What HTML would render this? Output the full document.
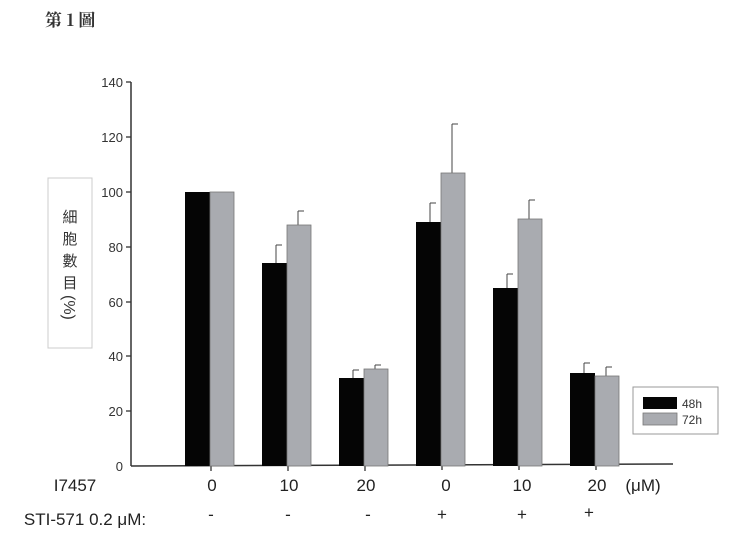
<!DOCTYPE html><html><head><meta charset="utf-8"><style>body{margin:0;background:#fff}svg{display:block}</style></head><body>
<svg width="729" height="540" xmlns="http://www.w3.org/2000/svg" font-family="Liberation Sans, sans-serif">
<text x="45" y="26" font-size="17" font-weight="bold" font-family="Noto Serif CJK SC, serif" fill="#333">第 1 圖</text>
<rect x="48" y="178" width="44" height="170" fill="#fff" stroke="#ccc"/>
<text font-size="15" font-family="Noto Sans CJK TC, sans-serif" fill="#333" text-anchor="middle">
<tspan x="70" y="222">細</tspan><tspan x="70" y="244">胞</tspan><tspan x="70" y="266">數</tspan><tspan x="70" y="288">目</tspan></text>
<text x="64" y="295" font-size="16" fill="#333" transform="rotate(90 64 295)">(%)</text>
<g stroke="#333" stroke-width="1.5" fill="none">
<line x1="131" y1="82" x2="131" y2="466"/><line x1="131" y1="466" x2="673" y2="464"/>
</g>
<g stroke="#333" stroke-width="1.3">
<line x1="126" y1="82" x2="131" y2="82"/><line x1="126" y1="137" x2="131" y2="137"/><line x1="126" y1="192" x2="131" y2="192"/><line x1="126" y1="247" x2="131" y2="247"/><line x1="126" y1="302" x2="131" y2="302"/><line x1="126" y1="356" x2="131" y2="356"/><line x1="126" y1="411" x2="131" y2="411"/>
<line x1="211" y1="466" x2="211" y2="471"/><line x1="288" y1="466" x2="288" y2="471"/><line x1="365" y1="466" x2="365" y2="471"/><line x1="442" y1="465" x2="442" y2="470"/><line x1="519" y1="465" x2="519" y2="470"/><line x1="596" y1="465" x2="596" y2="470"/>
</g>
<g font-size="13" fill="#333" text-anchor="end">
<text x="123" y="87">140</text><text x="123" y="142">120</text><text x="123" y="197">100</text><text x="123" y="252">80</text><text x="123" y="307">60</text><text x="123" y="361">40</text><text x="123" y="416">20</text><text x="123" y="471">0</text>
</g>
<g stroke="#444" stroke-width="1">
<line x1="276" y1="263" x2="276" y2="245"/><line x1="276" y1="245" x2="282" y2="245"/>
<line x1="298" y1="225" x2="298" y2="211"/><line x1="298" y1="211" x2="304" y2="211"/>
<line x1="353" y1="378" x2="353" y2="370"/><line x1="353" y1="370" x2="359" y2="370"/>
<line x1="375" y1="369" x2="375" y2="365"/><line x1="375" y1="365" x2="381" y2="365"/>
<line x1="430" y1="222" x2="430" y2="203"/><line x1="430" y1="203" x2="436" y2="203"/>
<line x1="452" y1="173" x2="452" y2="124"/><line x1="452" y1="124" x2="458" y2="124"/>
<line x1="507" y1="288" x2="507" y2="274"/><line x1="507" y1="274" x2="513" y2="274"/>
<line x1="529" y1="219" x2="529" y2="200"/><line x1="529" y1="200" x2="535" y2="200"/>
<line x1="584" y1="373" x2="584" y2="363"/><line x1="584" y1="363" x2="590" y2="363"/>
<line x1="606" y1="376" x2="606" y2="367"/><line x1="606" y1="367" x2="612" y2="367"/>
</g>
<g fill="#050505">
<rect x="185" y="192" width="25" height="274"/><rect x="262" y="263" width="25" height="203"/><rect x="339" y="378" width="25" height="88"/><rect x="416" y="222" width="25" height="244"/><rect x="493" y="288" width="25" height="178"/><rect x="570" y="373" width="25" height="93"/>
</g>
<g fill="#a9abb0" stroke="#777" stroke-width="0.8">
<rect x="210" y="192" width="24" height="274"/><rect x="287" y="225" width="24" height="241"/><rect x="364" y="369" width="24" height="97"/><rect x="441" y="173" width="24" height="293"/><rect x="518" y="219" width="24" height="247"/><rect x="595" y="376" width="24" height="90"/>
</g>
<rect x="633" y="387" width="85" height="47" fill="#fff" stroke="#999"/>
<rect x="643" y="397" width="34" height="12" fill="#050505"/>
<rect x="643" y="413" width="34" height="12" fill="#a9abb0" stroke="#777" stroke-width="0.8"/>
<text x="682" y="408" font-size="12" fill="#333">48h</text><text x="682" y="424" font-size="12" fill="#333">72h</text>
<g font-size="17" fill="#222" text-anchor="middle">
<text x="75" y="491">I7457</text><text x="212" y="491">0</text><text x="289" y="491">10</text><text x="366" y="491">20</text><text x="446" y="491">0</text><text x="522" y="491">10</text><text x="597" y="491">20</text><text x="643" y="491">(μM)</text>
<text x="85" y="525">STI-571 0.2 μM:</text><text x="211" y="520">-</text><text x="288" y="520">-</text><text x="368" y="520">-</text><text x="442" y="520">+</text><text x="522" y="520">+</text><text x="589" y="518">+</text>
</g>
</svg></body></html>
